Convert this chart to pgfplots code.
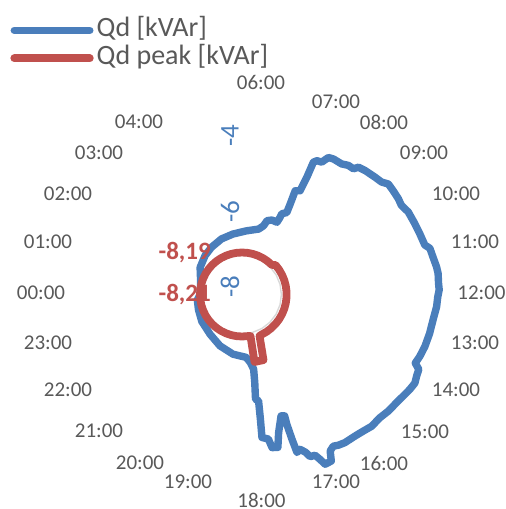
\documentclass[border=0pt]{standalone}
\usepackage{pgfplots}
\pgfplotsset{compat=1.18}
\usepackage{pgfplotstable}
\usepackage{fontspec}
\setmainfont{Carlito}
\definecolor{qblue}{HTML}{4A7EBB}
\definecolor{qred}{HTML}{C0504D}
\definecolor{lbl}{HTML}{595959}
% Qd [kVAr] by hour of day
\pgfplotstableread{
h q
0.00 -8.21
1.00 -8.19
2.19 -8.00
3.10 -7.90
3.81 -7.83
4.65 -7.75
5.43 -7.70
6.25 -7.63
6.95 -7.53
7.16 -7.41
7.25 -7.25
7.46 -7.19
7.72 -7.19
7.75 -7.04
7.75 -6.93
7.91 -6.84
7.87 -6.60
7.81 -6.22
7.95 -6.16
7.93 -5.76
7.89 -5.32
7.95 -5.24
8.07 -5.21
8.15 -5.01
8.27 -4.97
8.49 -4.95
8.63 -4.87
8.77 -4.85
8.83 -4.73
8.99 -4.67
9.24 -4.60
9.41 -4.55
9.53 -4.44
9.70 -4.44
9.90 -4.44
10.05 -4.46
10.24 -4.38
10.51 -4.35
10.74 -4.32
10.99 -4.28
11.08 -4.17
11.26 -4.14
11.46 -4.09
11.59 -4.07
11.78 -4.08
11.91 -4.07
12.05 -4.11
12.24 -4.13
12.50 -4.19
12.78 -4.22
13.06 -4.26
13.28 -4.31
13.44 -4.36
13.53 -4.21
13.67 -4.19
13.81 -4.15
13.97 -4.19
14.15 -4.25
14.33 -4.30
14.57 -4.34
14.79 -4.40
15.03 -4.40
15.23 -4.46
15.43 -4.50
15.68 -4.52
15.83 -4.56
15.93 -4.61
16.04 -4.54
16.12 -4.29
16.26 -4.29
16.31 -4.46
16.37 -4.62
16.48 -4.64
16.54 -4.80
16.63 -4.92
16.72 -4.87
16.73 -5.25
16.73 -5.67
16.71 -5.90
16.81 -5.93
17.01 -5.52
17.12 -5.14
17.26 -5.17
17.31 -5.41
17.47 -5.48
17.44 -5.97
17.41 -6.46
17.51 -6.51
17.45 -6.96
17.41 -7.31
17.53 -7.50
17.75 -7.65
18.57 -7.72
19.55 -7.84
20.58 -7.97
21.75 -8.04
22.71 -8.10
23.54 -8.13
24.00 -8.21
}\qd
% Qd peak [kVAr]
\pgfplotstableread{
h q
0.0 -8.21
0.5 -8.21
1.0 -8.21
1.5 -8.21
2.0 -8.21
2.5 -8.21
3.0 -8.21
3.5 -8.21
4.0 -8.21
4.5 -8.21
5.0 -8.21
5.5 -8.21
6.0 -8.21
6.5 -8.21
7.0 -8.21
7.5 -8.21
8.0 -8.21
8.5 -8.21
9.0 -8.21
9.25 -8.14
9.75 -8.14
10.25 -8.14
10.75 -8.14
11.25 -8.14
11.75 -8.14
12.25 -8.14
12.75 -8.14
13.25 -8.14
13.75 -8.14
14.25 -8.14
14.75 -8.14
15.25 -8.14
15.75 -8.14
16.25 -8.14
16.47 -8.13
16.79 -7.49
17.30 -7.50
17.23 -8.20
17.50 -8.21
18.0 -8.21
18.5 -8.21
19.0 -8.21
19.5 -8.21
20.0 -8.21
20.5 -8.21
21.0 -8.21
21.5 -8.21
22.0 -8.21
22.5 -8.21
23.0 -8.21
23.5 -8.21
24.0 -8.21
}\qpeak
% reference ring
\pgfplotstableread{
h q
0 -8.28
1 -8.28
2 -8.28
3 -8.28
4 -8.28
5 -8.28
6 -8.28
7 -8.28
8 -8.28
9 -8.28
10 -8.28
11 -8.28
12 -8.28
13 -8.28
14 -8.28
15 -8.28
16 -8.28
17 -8.28
18 -8.28
19 -8.28
20 -8.28
21 -8.28
22 -8.28
23 -8.28
24 -8.28
}\qring
\begin{document}
\begin{tikzpicture}
\begin{axis}[
  width=253pt, height=254.5pt, scale only axis,
  xmin=0, xmax=506, ymin=0, ymax=509,
  hide axis, clip=false,
  legend style={at={(axis cs:10,493)}, anchor=north west, draw=none, fill=none,
    inner sep=0pt, row sep=0pt,
    nodes={inner sep=1.5pt, text height=8.5pt, text depth=2.5pt, text=lbl,
      font=\fontsize{14}{16}\selectfont}},
  legend cell align=left,
  legend image code/.code={\draw[#1,line cap=round] (0pt,0pt) -- (37.75pt,0pt);},
]
\addplot[gray!30, line width=0.7pt, forget plot] table[
  x expr={242+37.5*(\thisrow{q}+9.33)*cos(180-15*\thisrow{h})},
  y expr={214.5+37.5*(\thisrow{q}+9.33)*sin(180-15*\thisrow{h})}] {\qring};
\addplot[qblue, line width=3.7pt, line join=round] table[
  x expr={242+37.5*(\thisrow{q}+9.33)*cos(180-15*\thisrow{h})},
  y expr={214.5+37.5*(\thisrow{q}+9.33)*sin(180-15*\thisrow{h})}] {\qd};
\addplot[qred, line width=3.9pt, line join=round] table[
  x expr={242+37.5*(\thisrow{q}+9.33)*cos(180-15*\thisrow{h})},
  y expr={214.5+37.5*(\thisrow{q}+9.33)*sin(180-15*\thisrow{h})}] {\qpeak};
\legend{Qd [kVAr], Qd peak [kVAr]}
\begin{scope}[every node/.style={text=lbl, font=\fontsize{10.5}{12}\selectfont, inner sep=0pt}]
\node at (axis cs:41,216) {00:00};
\node at (axis cs:48,267) {01:00};
\node at (axis cs:68,315) {02:00};
\node at (axis cs:99,356) {03:00};
\node at (axis cs:139,387) {04:00};
\node at (axis cs:261,426.5) {06:00};
\node at (axis cs:336,407) {07:00};
\node at (axis cs:384,387) {08:00};
\node at (axis cs:424,356) {09:00};
\node at (axis cs:456,315) {10:00};
\node at (axis cs:475,267) {11:00};
\node at (axis cs:481.5,216) {12:00};
\node at (axis cs:475,166) {13:00};
\node at (axis cs:456,119) {14:00};
\node at (axis cs:425,77) {15:00};
\node at (axis cs:384,46) {16:00};
\node at (axis cs:336,27) {17:00};
\node at (axis cs:261.5,9) {18:00};
\node at (axis cs:188,27) {19:00};
\node at (axis cs:140,46) {20:00};
\node at (axis cs:99,78) {21:00};
\node at (axis cs:68,119) {22:00};
\node at (axis cs:48,166) {23:00};
\end{scope}
\begin{scope}[every node/.style={text=qblue, font=\fontsize{13.5}{15}\selectfont, inner sep=0pt, rotate=90}]
\node at (axis cs:230,373) {-4};
\node at (axis cs:230,297.3) {-6};
\node at (axis cs:230,222.3) {-8};
\end{scope}
\begin{scope}[every node/.style={text=qred, font=\fontsize{12.5}{14}\selectfont\bfseries, inner sep=0pt}]
\node at (axis cs:184.7,256) {-8,19};
\node at (axis cs:184.7,214) {-8,21};
\end{scope}
\end{axis}
\pgfresetboundingbox
\useasboundingbox (current axis.south west) rectangle (current axis.north east);
\end{tikzpicture}
\end{document}
